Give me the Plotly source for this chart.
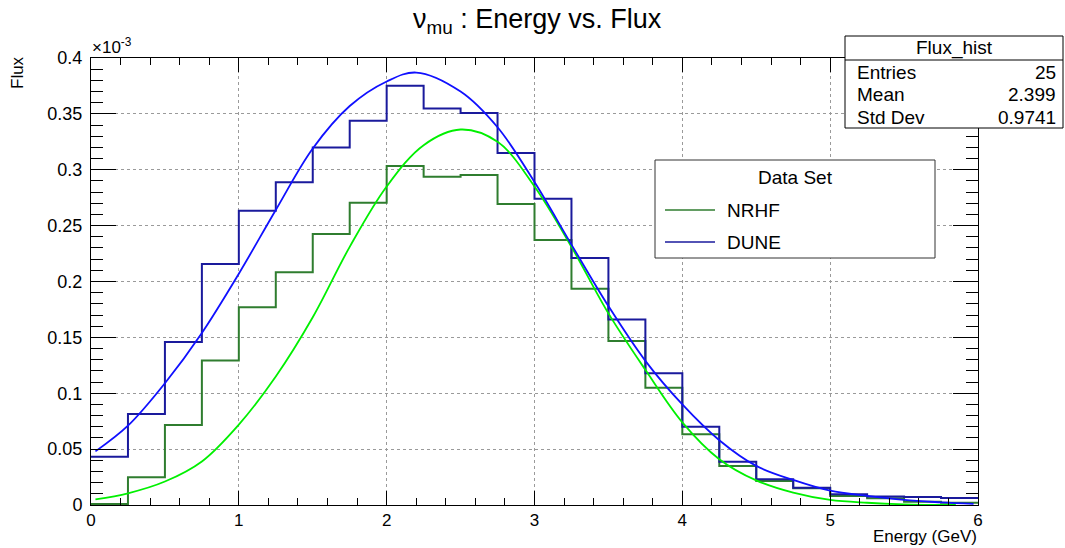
import plotly.graph_objects as go

# ---- data (flux in units of 1e-3) ----
bin_edges = [i * 0.25 for i in range(25)]
dune_hist = [0.0432, 0.0814, 0.1459, 0.2157, 0.2634, 0.2888, 0.3198, 0.3439,
             0.3752, 0.3547, 0.3508, 0.3150, 0.2741, 0.2210, 0.1661, 0.1178,
             0.0701, 0.0388, 0.0230, 0.0155, 0.0096, 0.0075, 0.0072, 0.0063]
nrhf_hist = [0.0010, 0.0248, 0.0716, 0.1292, 0.1769, 0.2082, 0.2425, 0.2705,
             0.3034, 0.2938, 0.2953, 0.2694, 0.2371, 0.1936, 0.1468, 0.1050,
             0.0632, 0.0349, 0.0215, 0.0149, 0.0080, 0.0060, 0.0030, 0.0020]

dune_fit_x = [0.03, 0.25, 0.5, 0.75, 1.0, 1.25, 1.5, 1.75, 2.0, 2.2, 2.5, 2.75,
              3.0, 3.25, 3.5, 3.75, 4.0, 4.25, 4.5, 4.75, 5.0, 5.25, 5.5, 5.75, 5.97]
dune_fit_y = [0.048, 0.071, 0.109, 0.154, 0.207, 0.264, 0.319, 0.357, 0.379, 0.387,
              0.370, 0.338, 0.289, 0.233, 0.178, 0.129, 0.090, 0.058, 0.035, 0.0224,
              0.0128, 0.0081, 0.0045, 0.0024, 0.001]

nrhf_fit_x = [0.03, 0.25, 0.5, 0.75, 1.0, 1.25, 1.5, 1.75, 2.0, 2.25, 2.5, 2.75,
              3.0, 3.25, 3.5, 3.75, 4.0, 4.25, 4.5, 4.75, 5.0, 5.25, 5.5, 5.85]
nrhf_fit_y = [0.005, 0.0105, 0.021, 0.039, 0.072, 0.115, 0.168, 0.231, 0.285, 0.322,
              0.336, 0.325, 0.285, 0.231, 0.1715, 0.121, 0.074, 0.041, 0.022, 0.011,
              0.0045, 0.002, 0.0006, 0.0]

stats_labels = ["Entries", "Mean", "Std Dev"]
stats_values = ["25", "2.399", "0.9741"]
legend_names = ["NRHF", "DUNE"]

FONT = "Liberation Sans, Arial, sans-serif"
C_NRHF_H = "#2f7d2f"
C_DUNE_H = "#1a1a9c"
C_NRHF_F = "#00f000"
C_DUNE_F = "#1010ff"

fig = go.Figure()
fig.add_trace(go.Scatter(x=bin_edges, y=nrhf_hist + [nrhf_hist[-1]], mode="lines",
                         line=dict(shape="hv", color=C_NRHF_H, width=2), showlegend=False))
fig.add_trace(go.Scatter(x=bin_edges, y=dune_hist + [dune_hist[-1]], mode="lines",
                         line=dict(shape="hv", color=C_DUNE_H, width=2), showlegend=False))
fig.add_trace(go.Scatter(x=nrhf_fit_x, y=nrhf_fit_y, mode="lines",
                         line=dict(shape="spline", color=C_NRHF_F, width=1.8), showlegend=False))
fig.add_trace(go.Scatter(x=dune_fit_x, y=dune_fit_y, mode="lines",
                         line=dict(shape="spline", color=C_DUNE_F, width=1.8), showlegend=False))

axis_common = dict(showline=True, linecolor="black", linewidth=1, mirror="allticks",
                   ticks="inside", tickcolor="black", showgrid=True, gridcolor="#9a9a9a",
                   griddash="dot", gridwidth=1, zeroline=False)

fig.update_xaxes(range=[0, 6], dtick=1, tick0=0, ticklen=14,
                 tickfont=dict(family=FONT, size=17, color="black"),
                 minor=dict(dtick=0.2, ticklen=7, ticks="inside", tickcolor="black", showgrid=False),
                 **axis_common)
fig.update_yaxes(range=[0, 0.4], dtick=0.05, tick0=0, ticklen=25,
                 tickfont=dict(family=FONT, size=18, color="black"),
                 minor=dict(dtick=0.01, ticklen=12, ticks="inside", tickcolor="black", showgrid=False),
                 ticklabelstandoff=4, **axis_common)

L, R, T, B = 91, 978, 58, 505
W, H = R - L, B - T
def px(x): return (x - L) / W
def py(y): return (B - y) / H

shapes = []
ann = []
# title
ann.append(dict(text="ν<sub>mu</sub> : Energy vs. Flux", x=px(537), y=py(21), xref="paper", yref="paper",
                showarrow=False, xanchor="center", yanchor="middle",
                font=dict(family=FONT, size=27, color="black")))
# exponent
ann.append(dict(text="×10<sup>-3</sup>", x=px(90), y=py(46), xref="paper", yref="paper",
                showarrow=False, xanchor="left", yanchor="middle",
                font=dict(family=FONT, size=17, color="black")))
# axis titles
ann.append(dict(text="Flux", x=px(18), y=py(73), xref="paper", yref="paper", textangle=-90,
                showarrow=False, xanchor="center", yanchor="middle",
                font=dict(family=FONT, size=17, color="black")))
ann.append(dict(text="Energy (GeV)", x=px(979), y=py(548), xref="paper", yref="paper",
                showarrow=False, xanchor="right", yanchor="bottom",
                font=dict(family=FONT, size=17, color="black")))

# stats box
shapes.append(dict(type="rect", xref="paper", yref="paper", x0=px(845), x1=px(1063),
                   y0=py(128), y1=py(36), line=dict(color="black", width=1), fillcolor="white"))
shapes.append(dict(type="line", xref="paper", yref="paper", x0=px(845), x1=px(1063),
                   y0=py(60), y1=py(60), line=dict(color="black", width=1)))
ann.append(dict(text="Flux_hist", x=px(954), y=py(48), xref="paper", yref="paper",
                showarrow=False, xanchor="center", yanchor="middle",
                font=dict(family=FONT, size=19, color="black")))
for i, (lab, val) in enumerate(zip(stats_labels, stats_values)):
    yy = 72 + i * 22.5
    ann.append(dict(text=lab, x=px(855), y=py(yy), xref="paper", yref="paper",
                    showarrow=False, xanchor="left", yanchor="middle",
                    font=dict(family=FONT, size=19, color="black")))
    ann.append(dict(text=val, x=px(1058), y=py(yy), xref="paper", yref="paper",
                    showarrow=False, xanchor="right", yanchor="middle",
                    font=dict(family=FONT, size=19, color="black")))

# legend box
shapes.append(dict(type="rect", xref="paper", yref="paper", x0=px(655), x1=px(935),
                   y0=py(258), y1=py(160), line=dict(color="#333333", width=1), fillcolor="white"))
ann.append(dict(text="Data Set", x=px(795), y=py(178), xref="paper", yref="paper",
                showarrow=False, xanchor="center", yanchor="middle",
                font=dict(family=FONT, size=19, color="black")))
for name, col, yy in zip(legend_names, [C_NRHF_H, C_DUNE_H], [210, 242]):
    shapes.append(dict(type="line", xref="paper", yref="paper", x0=px(665), x1=px(715),
                       y0=py(yy), y1=py(yy), line=dict(color=col, width=1.5)))
    ann.append(dict(text=name, x=px(725), y=py(yy), xref="paper", yref="paper",
                    showarrow=False, xanchor="left", yanchor="middle",
                    font=dict(family=FONT, size=19, color="black")))

fig.update_layout(width=1065, height=548, margin=dict(l=L, r=1065 - R, t=T, b=548 - B),
                  paper_bgcolor="white", plot_bgcolor="white", showlegend=False,
                  shapes=shapes, annotations=ann, font=dict(family=FONT))

fig.write_html("out.html")
